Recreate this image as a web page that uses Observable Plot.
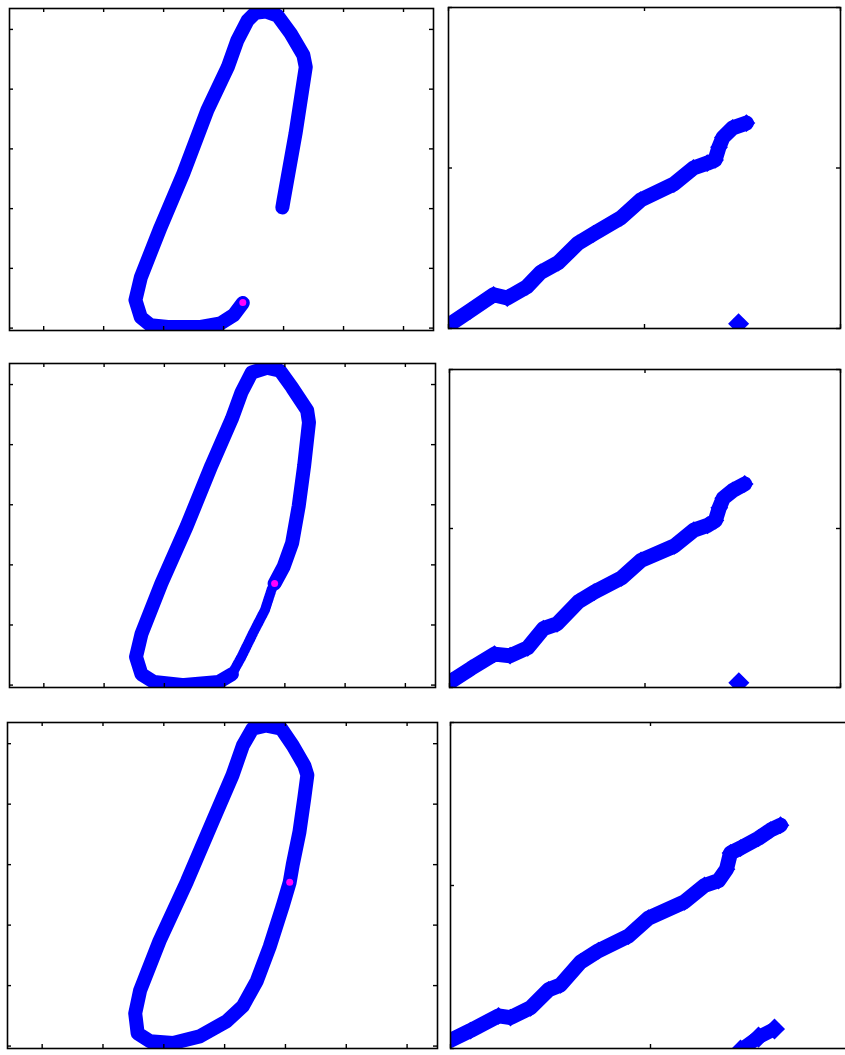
<!DOCTYPE html>
<html>
<head>
<meta charset="utf-8">
<script src="https://cdn.jsdelivr.net/npm/d3@7"></script>
<script src="https://cdn.jsdelivr.net/npm/@observablehq/plot@0.6"></script>
<style>
  html, body { margin: 0; padding: 0; background: #fff; }
  #board { position: relative; width: 845px; height: 1055px; overflow: hidden; background: #fff; }
  #board svg { position: absolute; }
</style>
</head>
<body>
<div id="board"></div>
<script>
// ---- tick values ----
const loopXTicks = [0, 1, 2, 3, 4, 5, 6];
const loopYTicks = [0, 1, 2, 3, 4, 5];
const riseTicks = [0, 1, 2];

// ---- row 1: open loop trace and rising trace ----
const loop1 = [[3.98,2.02],[4.0,2.14],[4.2,3.26],[4.37,4.37],[4.33,4.57],[4.12,4.93],[3.9,5.23],[3.7,5.3],[3.53,5.28],[3.4,5.15],[3.23,4.82],[3.07,4.37],[2.73,3.65],[2.33,2.59],[1.95,1.69],[1.62,0.85],[1.53,0.47],[1.62,0.18],[1.78,0.05],[2.07,0.02],[2.62,0.02],[2.95,0.08],[3.17,0.22],[3.32,0.42]];
const loop1Tail = [];
const loop1Mark = [[3.32,0.43]];
const rise1 = [[0,0.02],[0.11,0.11],[0.23,0.21],[0.3,0.19],[0.4,0.26],[0.47,0.35],[0.56,0.41],[0.66,0.53],[0.74,0.59],[0.88,0.69],[0.98,0.8],[1.15,0.9],[1.25,1.0],[1.32,1.03],[1.36,1.05],[1.38,1.13],[1.4,1.19],[1.45,1.25],[1.52,1.28]];
const stray1 = [[1.48,0.03]];

// ---- row 2: closed loop with a thin return stretch ----
const loop2 = [[3.83,1.69],[3.98,1.97],[4.12,2.36],[4.23,2.98],[4.32,3.65],[4.4,4.37],[4.37,4.57],[4.12,4.95],[3.92,5.23],[3.7,5.28],[3.45,5.2],[3.28,4.87],[3.12,4.43],[2.78,3.65],[2.37,2.64],[1.95,1.69],[1.62,0.85],[1.53,0.47],[1.62,0.18],[1.83,0.05],[2.33,0.0],[2.9,0.05],[3.12,0.18]];
const loop2Tail = [[3.12,0.18],[3.28,0.47],[3.5,0.92],[3.67,1.25],[3.78,1.59],[3.83,1.69]];
const loop2Mark = [[3.83,1.69]];
const rise2 = [[0.01,0.04],[0.11,0.12],[0.23,0.21],[0.31,0.2],[0.4,0.25],[0.48,0.37],[0.55,0.4],[0.66,0.54],[0.74,0.6],[0.88,0.69],[0.98,0.8],[1.15,0.89],[1.25,0.99],[1.32,1.02],[1.36,1.05],[1.38,1.13],[1.4,1.19],[1.45,1.24],[1.51,1.28]];
const stray2 = [[1.48,0.03]];

// ---- row 3: fully closed loop ----
const loop3 = [[4.07,2.71],[4.12,3.0],[4.23,3.54],[4.31,4.1],[4.36,4.48],[4.31,4.64],[4.12,4.97],[3.93,5.25],[3.69,5.3],[3.46,5.25],[3.3,4.97],[3.13,4.48],[2.8,3.71],[2.38,2.72],[1.93,1.74],[1.61,0.92],[1.53,0.54],[1.57,0.21],[1.77,0.08],[2.15,0.05],[2.59,0.16],[3.03,0.41],[3.3,0.66],[3.53,1.08],[3.74,1.64],[3.95,2.3],[4.07,2.71]];
const loop3Tail = [];
const loop3Mark = [[4.07,2.71]];
const rise3 = [[0,0.05],[0.1,0.11],[0.24,0.2],[0.3,0.19],[0.4,0.25],[0.49,0.36],[0.55,0.39],[0.65,0.53],[0.74,0.6],[0.89,0.69],[0.99,0.8],[1.17,0.9],[1.27,1.0],[1.34,1.03],[1.38,1.1],[1.4,1.2],[1.45,1.23],[1.54,1.29],[1.6,1.34],[1.65,1.37]];
const stray3 = [[1.45,-0.01],[1.54,0.07],[1.62,0.12]];

const BLUE = "#0000ff";
const MAGENTA = "#ff00ff";
const board = document.getElementById("board");
const px = d => d[0], py = d => d[1];

// One boxed axes: frame, inward ticks on all four sides, no labels.
function panel({box, xDomain, yDomain, xTicks, yTicks, marks}) {
  const m = 2, tick = 4;
  const [left, top, right, bottom] = box;
  const W = right - left, H = bottom - top;
  const tickStyle = {stroke: "#000", strokeWidth: 1.4};
  const svg = Plot.plot({
    width: W + 2 * m,
    height: H + 2 * m,
    marginTop: m, marginRight: m, marginBottom: m, marginLeft: m,
    x: {domain: xDomain, axis: null},
    y: {domain: yDomain, axis: null},
    style: {background: "transparent", overflow: "visible"},
    marks: [
      ...marks,
      Plot.tickX(xTicks, {x: d => d, insetTop: H - tick, ...tickStyle}),
      Plot.tickX(xTicks, {x: d => d, insetBottom: H - tick, ...tickStyle}),
      Plot.tickY(yTicks, {y: d => d, insetRight: W - tick, ...tickStyle}),
      Plot.tickY(yTicks, {y: d => d, insetLeft: W - tick, ...tickStyle}),
      Plot.frame({stroke: "#000", strokeWidth: 1.6})
    ]
  });
  svg.style.left = (left - m) + "px";
  svg.style.top = (top - m) + "px";
  board.append(svg);
}

function loopMarks(path, tail, mark) {
  return [
    Plot.line(path, {x: px, y: py, stroke: BLUE, strokeWidth: 14, strokeLinejoin: "round", strokeLinecap: "round", clip: true}),
    Plot.line(tail, {x: px, y: py, stroke: BLUE, strokeWidth: 10, strokeDasharray: "1.4,1.6", clip: true}),
    Plot.line(tail, {x: px, y: py, stroke: BLUE, strokeWidth: 3.5, clip: true}),
    Plot.dot(mark, {x: px, y: py, r: 3.5, fill: MAGENTA, stroke: null})
  ];
}

function riseMarks(path, stray) {
  return [
    Plot.line(path, {x: px, y: py, stroke: BLUE, strokeWidth: 15, strokeLinejoin: "round", clip: true}),
    Plot.dot(path, {x: px, y: py, symbol: "diamond2", r: 8, fill: BLUE, stroke: null, clip: true}),
    Plot.line(stray, {x: px, y: py, stroke: BLUE, strokeWidth: 14, strokeLinejoin: "round", clip: true}),
    Plot.dot(stray, {x: px, y: py, symbol: "diamond2", r: 9.5, fill: BLUE, stroke: null, clip: true})
  ];
}

const loopX = [-0.57, 6.5], loopY = [-0.04, 5.35];
const riseX = [0, 2], riseY = [0, 2];

panel({box: [9, 8, 433, 330], xDomain: loopX, yDomain: loopY, xTicks: loopXTicks, yTicks: loopYTicks, marks: loopMarks(loop1, loop1Tail, loop1Mark)});
panel({box: [448, 7, 840, 328], xDomain: riseX, yDomain: riseY, xTicks: riseTicks, yTicks: riseTicks, marks: riseMarks(rise1, stray1)});
panel({box: [9, 363, 435, 687], xDomain: loopX, yDomain: loopY, xTicks: loopXTicks, yTicks: loopYTicks, marks: loopMarks(loop2, loop2Tail, loop2Mark)});
panel({box: [449, 369, 840, 687], xDomain: riseX, yDomain: riseY, xTicks: riseTicks, yTicks: riseTicks, marks: riseMarks(rise2, stray2)});
panel({box: [7, 722, 437, 1048], xDomain: loopX, yDomain: loopY, xTicks: loopXTicks, yTicks: loopYTicks, marks: loopMarks(loop3, loop3Tail, loop3Mark)});
panel({box: [450, 722, 850, 1048], xDomain: riseX, yDomain: riseY, xTicks: riseTicks, yTicks: riseTicks, marks: riseMarks(rise3, stray3)});
</script>
</body>
</html>
